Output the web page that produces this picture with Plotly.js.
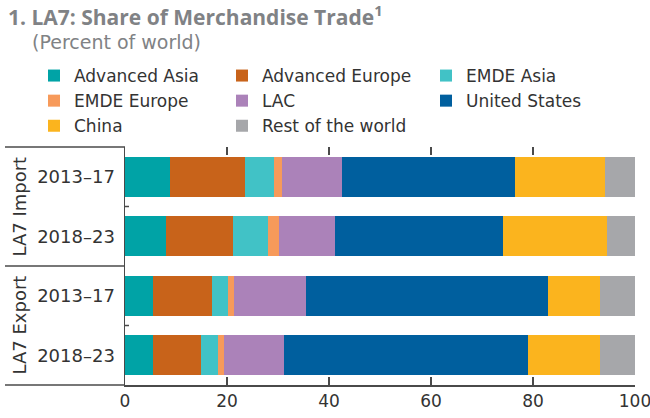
<!DOCTYPE html>
<html>
<head>
<meta charset="utf-8">
<script src="https://cdn.plot.ly/plotly-3.0.1.min.js"></script>
<style>html,body{margin:0;padding:0;background:#fff;}#chart{width:650px;height:418px;}</style>
</head>
<body>
<div id="chart"></div>
<script>
// Categories (top to bottom)
const groups = ["LA7 Import", "LA7 Import", "LA7 Export", "LA7 Export"];
const periods = ["2013–17", "2018–23", "2013–17", "2018–23"];
const groupNames = ["LA7 Import", "LA7 Export"];

// Series values (percent of world)
const advancedAsia   = [8.8, 8.0, 5.4, 5.4];
const advancedEurope = [14.8, 13.2, 11.6, 9.5];
const emdeAsia       = [5.7, 6.9, 3.1, 3.4];
const emdeEurope     = [1.5, 2.1, 1.3, 1.1];
const lac            = [11.8, 11.0, 14.0, 11.7];
const unitedStates   = [33.8, 33.0, 47.6, 48.0];
const china          = [17.8, 20.4, 10.1, 14.1];
const restOfWorld    = [5.8, 5.4, 6.9, 6.8];

const xTicks = [0, 20, 40, 60, 80, 100];

const seriesNames = ["Advanced Asia", "Advanced Europe", "EMDE Asia", "EMDE Europe", "LAC", "United States", "China", "Rest of the world"];
const seriesValues = [advancedAsia, advancedEurope, emdeAsia, emdeEurope, lac, unitedStates, china, restOfWorld];
const colors = ["#00A3A6", "#C8631A", "#41C2C6", "#F79A5A", "#AB82B9", "#005F9E", "#FBB41E", "#A6A7AA"];
const legendOf = ["legend", "legend2", "legend3", "legend", "legend2", "legend3", "legend", "legend2"];

const cats = groups.map((g, i) => g + " " + periods[i]);

const FONT = "'DejaVu Sans', 'Open Sans', sans-serif";
const TFONT = "'Open Sans', 'Noto Sans', sans-serif";
const TXT = "#333333";
const LINE = "#4a4a4a";
const GREY = "#808285";

const traces = seriesNames.map((name, k) => ({
  type: "bar",
  orientation: "h",
  name: name,
  x: seriesValues[k],
  y: cats,
  marker: { color: colors[k], line: { width: 0 } },
  legend: legendOf[k],
  hoverinfo: "x+name"
}));

// plot area: px 125..635 horizontally, 147..385 vertically
const L = 125, R = 15, T = 147, B = 33;
const PW = 650 - L - R;
const PH = 418 - T - B;
const px2x = p => (p - L) / PW;
const py2y = p => (418 - B - p) / PH;

const legendBase = {
  orientation: "v",
  traceorder: "normal",
  yanchor: "top",
  y: py2y(58),
  xanchor: "left",
  font: { family: FONT, size: 17, color: TXT },
  bgcolor: "rgba(0,0,0,0)",
  itemclick: false,
  tracegroupgap: 0
};

const layout = {
  width: 650,
  height: 418,
  margin: { l: L, r: R, t: T, b: B, pad: 0 },
  paper_bgcolor: "#ffffff",
  plot_bgcolor: "#ffffff",
  barmode: "stack",
  bargap: 0.33,
  font: { family: FONT, size: 17, color: TXT },
  showlegend: true,
  legend: Object.assign({}, legendBase, { x: px2x(34) }),
  legend2: Object.assign({}, legendBase, { x: px2x(222) }),
  legend3: Object.assign({}, legendBase, { x: px2x(426) }),
  xaxis: {
    range: [0, 100],
    tickmode: "array",
    tickvals: xTicks,
    ticktext: xTicks.map(String),
    ticks: "inside",
    ticklen: 8,
    tickwidth: 1.5,
    tickcolor: LINE,
    showline: true,
    linecolor: LINE,
    linewidth: 1.5,
    showgrid: false,
    zeroline: false,
    ticklabeloverflow: "allow",
    tickfont: { family: FONT, size: 17, color: TXT },
    fixedrange: true
  },
  xaxis2: {
    overlaying: "x",
    side: "top",
    anchor: "y",
    range: [0, 100],
    tickmode: "array",
    tickvals: xTicks.slice(1),
    ticks: "inside",
    ticklen: 8,
    tickwidth: 1.5,
    tickcolor: LINE,
    showticklabels: false,
    showline: false,
    showgrid: false,
    zeroline: false
  },
  yaxis: {
    type: "category",
    categoryorder: "array",
    categoryarray: cats,
    autorange: "reversed",
    tickmode: "array",
    tickvals: cats,
    ticktext: periods,
    ticks: "",
    ticklabelstandoff: 5,
    showline: true,
    linecolor: LINE,
    linewidth: 1.5,
    showgrid: false,
    zeroline: false,
    tickfont: { family: FONT, size: 18, color: TXT },
    fixedrange: true
  },
  annotations: [
    {
      text: "<b>1. LA7: Share of Merchandise Trade<sup>1</sup></b>",
      xref: "paper", yref: "paper",
      x: px2x(6), xanchor: "left",
      y: py2y(15), yanchor: "middle",
      showarrow: false,
      font: { family: TFONT, size: 21, color: GREY }
    },
    {
      text: "(Percent of world)",
      xref: "paper", yref: "paper",
      x: px2x(30), xanchor: "left",
      y: py2y(42), yanchor: "middle",
      showarrow: false,
      font: { family: FONT, size: 19, color: GREY }
    },
    {
      text: groupNames[0],
      xref: "paper", yref: "paper",
      x: px2x(19), xanchor: "center",
      y: 0.75, yanchor: "middle",
      textangle: -90,
      showarrow: false,
      font: { family: FONT, size: 18, color: TXT }
    },
    {
      text: groupNames[1],
      xref: "paper", yref: "paper",
      x: px2x(19), xanchor: "center",
      y: 0.25, yanchor: "middle",
      textangle: -90,
      showarrow: false,
      font: { family: FONT, size: 18, color: TXT }
    }
  ],
  shapes: [
    { type: "line", xref: "paper", yref: "paper", x0: px2x(5), x1: 0, y0: 1, y1: 1, line: { color: LINE, width: 1.5 } },
    { type: "line", xref: "paper", yref: "paper", x0: px2x(5), x1: 0, y0: 0.5, y1: 0.5, line: { color: LINE, width: 1.5 } },
    { type: "line", xref: "paper", yref: "paper", x0: px2x(5), x1: 0, y0: 0, y1: 0, line: { color: LINE, width: 1.5 } },
    { type: "line", xref: "paper", yref: "paper", x0: 0, x1: px2x(129), y0: 0.75, y1: 0.75, line: { color: LINE, width: 1.5 } },
    { type: "line", xref: "paper", yref: "paper", x0: 0, x1: px2x(129), y0: 0.25, y1: 0.25, line: { color: LINE, width: 1.5 } }
  ]
};

traces.push({
  type: "scatter", x: [], y: [], xaxis: "x2", yaxis: "y",
  showlegend: false, hoverinfo: "skip"
});

Plotly.newPlot("chart", traces, layout, { displayModeBar: false, staticPlot: true });
</script>
</body>
</html>
